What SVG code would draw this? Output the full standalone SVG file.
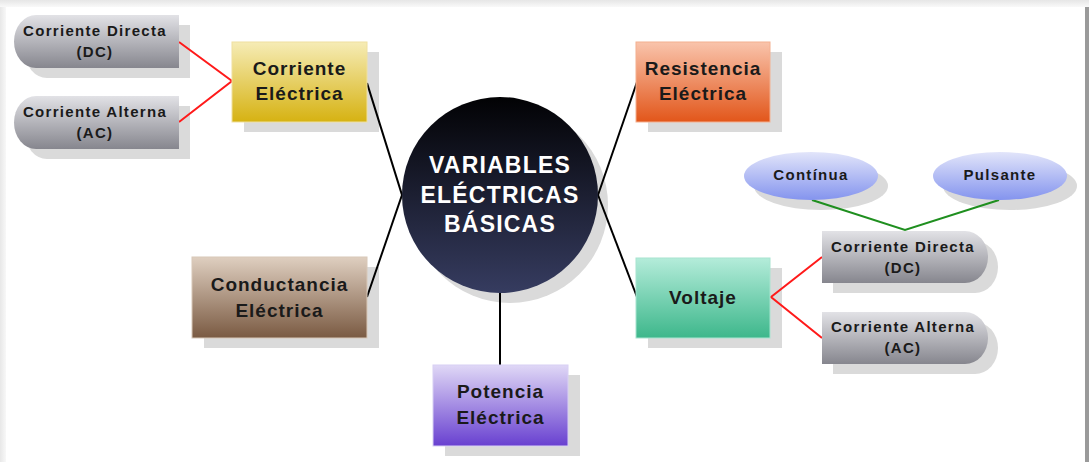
<svg xmlns="http://www.w3.org/2000/svg" width="1089" height="462" viewBox="0 0 1089 462">
<style>
.t{font-family:"Liberation Sans",Arial,sans-serif;font-weight:bold;text-anchor:middle;fill:#1a1a1a}
.big{font-size:19px;letter-spacing:1px}
.sm{font-size:15px;letter-spacing:1.3px}
.el{font-size:15px;letter-spacing:1.3px}
.ttl{font-family:"Liberation Sans",Arial,sans-serif;font-weight:bold;text-anchor:middle;fill:#ffffff;font-size:23px;letter-spacing:1.2px}
.sh{fill:#dadada}
.blk{stroke:#000;stroke-width:2;fill:none}
.red{stroke:#ff1a1a;stroke-width:2;fill:none}
.grn{stroke:#1f8f1f;stroke-width:2;fill:none}
</style>
<defs>
<linearGradient id="gGray" x1="0" y1="0" x2="0" y2="1"><stop offset="0" stop-color="#e2e2e6"/><stop offset="1" stop-color="#86868e"/></linearGradient>
<linearGradient id="gYel" x1="0" y1="0" x2="0" y2="1"><stop offset="0" stop-color="#f6ecb6"/><stop offset="1" stop-color="#d6b212"/></linearGradient>
<linearGradient id="gOra" x1="0" y1="0" x2="0" y2="1"><stop offset="0" stop-color="#f9c4ac"/><stop offset="1" stop-color="#e2561a"/></linearGradient>
<linearGradient id="gGrn" x1="0" y1="0" x2="0" y2="1"><stop offset="0" stop-color="#b4ecda"/><stop offset="1" stop-color="#3db78b"/></linearGradient>
<linearGradient id="gBrn" x1="0" y1="0" x2="0" y2="1"><stop offset="0" stop-color="#dfcfc0"/><stop offset="1" stop-color="#7a5a42"/></linearGradient>
<linearGradient id="gPur" x1="0" y1="0" x2="0" y2="1"><stop offset="0" stop-color="#e0d8f6"/><stop offset="1" stop-color="#6840d0"/></linearGradient>
<linearGradient id="gBlu" x1="0" y1="0" x2="0" y2="1"><stop offset="0" stop-color="#e2e5fa"/><stop offset="1" stop-color="#8494ee"/></linearGradient>
<linearGradient id="gCir" x1="0" y1="0" x2="0" y2="1"><stop offset="0" stop-color="#020204"/><stop offset="1" stop-color="#363c60"/></linearGradient>
<linearGradient id="gTop" x1="0" y1="0" x2="0" y2="1"><stop offset="0" stop-color="#e6e6e6"/><stop offset="1" stop-color="#f9f9f9"/></linearGradient>
<linearGradient id="gLeft" x1="0" y1="0" x2="1" y2="0"><stop offset="0" stop-color="#e8e8e8"/><stop offset="1" stop-color="#f8f8f8"/></linearGradient>
</defs>

<g id="frame">
<rect x="0" y="0" width="1089" height="462" fill="#ffffff"/>
<rect x="0" y="0" width="1089" height="7" fill="url(#gTop)"/>
<rect x="0" y="7" width="6" height="455" fill="url(#gLeft)"/>
<rect x="1085" y="7" width="4" height="455" fill="#9a9a9a"/>
</g>

<g id="shadows">
<circle class="sh" cx="510" cy="205" r="98"/>
<path class="sh" d="M47,25 H190 V78 H47 A22,26.5 0 0 1 47,25 Z"/>
<path class="sh" d="M47,106 H190 V159 H47 A22,26.5 0 0 1 47,106 Z"/>
<rect class="sh" x="244" y="52" width="135" height="80"/>
<rect class="sh" x="648" y="52" width="134" height="80"/>
<rect class="sh" x="648" y="268" width="134" height="80"/>
<rect class="sh" x="204" y="267" width="175" height="81"/>
<rect class="sh" x="445" y="375" width="135" height="81"/>
<ellipse class="sh" cx="821" cy="186" rx="67" ry="24"/>
<ellipse class="sh" cx="1010" cy="186" rx="67" ry="24"/>
<path class="sh" d="M833,241 H975 A23,26 0 0 1 975,293 H833 Z"/>
<path class="sh" d="M833,322 H975 A23,26 0 0 1 975,374 H833 Z"/>
</g>

<g id="connectors">
<line class="blk" x1="367" y1="83" x2="402" y2="195"/>
<line class="blk" x1="367" y1="297" x2="402" y2="195"/>
<line class="blk" x1="637" y1="82" x2="598" y2="195"/>
<line class="blk" x1="637" y1="297" x2="598" y2="195"/>
<line class="blk" x1="500" y1="293" x2="500" y2="365"/>
<polyline class="red" points="179,42 232,81 179,122"/>
<polyline class="red" points="822,257 771,297 822,338"/>
<polyline class="grn" points="812,200 905,230 999,200"/>
</g>

<g id="center">
<circle cx="500" cy="195" r="98" fill="url(#gCir)"/>
<text class="ttl" x="500" y="173">VARIABLES</text>
<text class="ttl" x="500" y="203">ELÉCTRICAS</text>
<text class="ttl" x="500" y="232">BÁSICAS</text>
</g>

<g id="dc-left">
<path d="M36,15 H179 V68 H36 A22,26.5 0 0 1 36,15 Z" fill="url(#gGray)"/>
<text class="t sm" x="95" y="36">Corriente Directa</text>
<text class="t sm" x="95" y="57">(DC)</text>
</g>

<g id="ac-left">
<path d="M36,96 H179 V149 H36 A22,26.5 0 0 1 36,96 Z" fill="url(#gGray)"/>
<text class="t sm" x="95" y="117">Corriente Alterna</text>
<text class="t sm" x="95" y="138">(AC)</text>
</g>

<g id="corriente">
<rect x="232" y="42" width="135" height="80" fill="url(#gYel)" stroke="#efe0a0" stroke-width="1"/>
<text class="t big" x="299.5" y="75">Corriente</text>
<text class="t big" x="299.5" y="100">Eléctrica</text>
</g>

<g id="resistencia">
<rect x="636" y="42" width="134" height="80" fill="url(#gOra)" stroke="#f4b090" stroke-width="1"/>
<text class="t big" x="703" y="75">Resistencia</text>
<text class="t big" x="703" y="100">Eléctrica</text>
</g>

<g id="voltaje">
<rect x="636" y="258" width="134" height="80" fill="url(#gGrn)" stroke="#a8e4d0" stroke-width="1"/>
<text class="t big" x="703" y="304">Voltaje</text>
</g>

<g id="conductancia">
<rect x="192" y="257" width="175" height="81" fill="url(#gBrn)" stroke="#d8c8b8" stroke-width="1"/>
<text class="t big" x="279.5" y="291">Conductancia</text>
<text class="t big" x="279.5" y="317">Eléctrica</text>
</g>

<g id="potencia">
<rect x="433" y="365" width="135" height="81" fill="url(#gPur)" stroke="#d8d0f4" stroke-width="1"/>
<text class="t big" x="500.5" y="398">Potencia</text>
<text class="t big" x="500.5" y="424">Eléctrica</text>
</g>

<g id="continua">
<ellipse cx="811" cy="176" rx="67" ry="24" fill="url(#gBlu)"/>
<text class="t el" x="811" y="180">Contínua</text>
</g>

<g id="pulsante">
<ellipse cx="1000" cy="176" rx="67" ry="24" fill="url(#gBlu)"/>
<text class="t el" x="1000" y="180">Pulsante</text>
</g>

<g id="dc-right">
<path d="M822,231 H965 A23,26 0 0 1 965,283 H822 Z" fill="url(#gGray)"/>
<text class="t sm" x="903" y="252">Corriente Directa</text>
<text class="t sm" x="903" y="273">(DC)</text>
</g>

<g id="ac-right">
<path d="M822,312 H965 A23,26 0 0 1 965,364 H822 Z" fill="url(#gGray)"/>
<text class="t sm" x="903" y="332">Corriente Alterna</text>
<text class="t sm" x="903" y="353">(AC)</text>
</g>
</svg>
